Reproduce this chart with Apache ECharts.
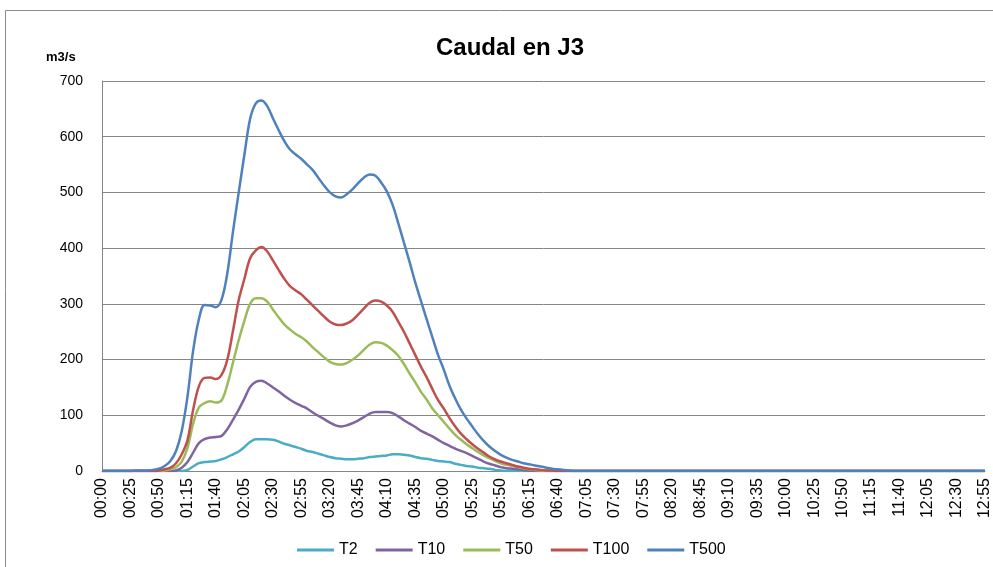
<!DOCTYPE html>
<html>
<head>
<meta charset="utf-8">
<title>Caudal en J3</title>
<script src="https://cdn.jsdelivr.net/npm/echarts@6/dist/echarts.min.js"></script>
<style>
  html, body { margin: 0; padding: 0; background: #ffffff; }
  #chart { width: 993px; height: 567px; }
</style>
</head>
<body>
<div id="chart"></div>
<script>
// Time steps (5-minute intervals)
const times = [
  "00:00","00:05","00:10","00:15","00:20","00:25","00:30","00:35","00:40","00:45",
  "00:50","00:55","01:00","01:05","01:10","01:15","01:20","01:25","01:30","01:35",
  "01:40","01:45","01:50","01:55","02:00","02:05","02:10","02:15","02:20","02:25",
  "02:30","02:35","02:40","02:45","02:50","02:55","03:00","03:05","03:10","03:15",
  "03:20","03:25","03:30","03:35","03:40","03:45","03:50","03:55","04:00","04:05",
  "04:10","04:15","04:20","04:25","04:30","04:35","04:40","04:45","04:50","04:55",
  "05:00","05:05","05:10","05:15","05:20","05:25","05:30","05:35","05:40","05:45",
  "05:50","05:55","06:00","06:05","06:10","06:15","06:20","06:25","06:30","06:35",
  "06:40","06:45","06:50","06:55","07:00","07:05","07:10","07:15","07:20","07:25",
  "07:30","07:35","07:40","07:45","07:50","07:55","08:00","08:05","08:10","08:15",
  "08:20","08:25","08:30","08:35","08:40","08:45","08:50","08:55","09:00","09:05",
  "09:10","09:15","09:20","09:25","09:30","09:35","09:40","09:45","09:50","09:55",
  "10:00","10:05","10:10","10:15","10:20","10:25","10:30","10:35","10:40","10:45",
  "10:50","10:55","11:00","11:05","11:10","11:15","11:20","11:25","11:30","11:35",
  "11:40","11:45","11:50","11:55","12:00","12:05","12:10","12:15","12:20","12:25",
  "12:30","12:35","12:40","12:45","12:50","12:55"
];

// Flow (m3/s) for each return period
const T2 = [
  0,0,0,0,0,0,0,0,0,0,
  0,0,0,0,0,2,8,14,16,17,
  18,21,25,30,35,43,52,57,57,57,
  56,53,49,46,43,40,36,34,31,28,
  25,23,22,21,21,22,23,25,26,27,
  28,30,30,29,28,25,23,22,20,18,
  17,16,13,11,9,8,6,5,4,2,
  1,0,0,0,0,0,0,0,0,0,
  0,0,0,0,0,0,0,0,0,0,
  0,0,0,0,0,0,0,0,0,0,
  0,0,0,0,0,0,0,0,0,0,
  0,0,0,0,0,0,0,0,0,0,
  0,0,0,0,0,0,0,0,0,0,
  0,0,0,0,0,0,0,0,0,0,
  0,0,0,0,0,0,0,0,0,0,
  0,0,0,0,0,0
];
const T10 = [
  0,0,0,0,0,0,0,0,0,0,
  0,0,0,1,6,16,33,50,57,60,
  61,63,75,92,110,130,151,160,162,157,
  150,143,135,128,122,117,112,105,99,93,
  87,82,80,82,86,91,97,103,106,106,
  106,104,98,91,85,79,72,67,62,56,
  50,45,40,36,32,27,22,17,13,10,
  7,5,4,3,2,1,0,0,0,0,
  0,0,0,0,0,0,0,0,0,0,
  0,0,0,0,0,0,0,0,0,0,
  0,0,0,0,0,0,0,0,0,0,
  0,0,0,0,0,0,0,0,0,0,
  0,0,0,0,0,0,0,0,0,0,
  0,0,0,0,0,0,0,0,0,0,
  0,0,0,0,0,0,0,0,0,0,
  0,0,0,0,0,0
];
const T50 = [
  0,0,0,0,0,0,0,0,0,0,
  0,1,3,7,17,41,85,114,122,125,
  123,127,155,195,235,270,300,310,310,304,
  290,276,263,254,246,240,232,222,213,204,
  196,192,191,194,200,208,218,227,231,230,
  225,217,207,192,175,159,142,128,112,100,
  88,76,65,56,48,41,34,28,23,18,
  14,11,9,7,5,3,2,1,0,0,
  0,0,0,0,0,0,0,0,0,0,
  0,0,0,0,0,0,0,0,0,0,
  0,0,0,0,0,0,0,0,0,0,
  0,0,0,0,0,0,0,0,0,0,
  0,0,0,0,0,0,0,0,0,0,
  0,0,0,0,0,0,0,0,0,0,
  0,0,0,0,0,0,0,0,0,0,
  0,0,0,0,0,0
];
const T100 = [
  0,0,0,0,0,0,0,0,0,0,
  1,3,6,14,30,55,110,152,167,168,
  165,173,200,252,307,345,382,396,402,394,
  378,361,345,332,324,317,307,297,287,277,
  268,263,262,265,271,281,292,302,306,304,
  297,286,268,250,229,208,187,168,147,127,
  112,95,80,67,57,48,40,33,26,21,
  17,14,11,8,6,4,3,2,1,1,
  0,0,0,0,0,0,0,0,0,0,
  0,0,0,0,0,0,0,0,0,0,
  0,0,0,0,0,0,0,0,0,0,
  0,0,0,0,0,0,0,0,0,0,
  0,0,0,0,0,0,0,0,0,0,
  0,0,0,0,0,0,0,0,0,0,
  0,0,0,0,0,0,0,0,0,0,
  0,0,0,0,0,0
];
const T500 = [
  0,0,0,0,0,0,1,1,1,2,
  4,9,18,36,72,133,216,272,298,297,
  294,308,355,430,500,568,632,660,665,655,
  633,612,592,577,568,560,550,540,526,512,
  500,493,491,497,506,517,527,532,530,518,
  502,478,445,410,375,338,305,272,240,208,
  182,153,130,110,94,80,66,54,44,36,
  29,24,20,17,14,12,10,8,6,4,
  3,2,1,0,0,0,0,0,0,0,
  0,0,0,0,0,0,0,0,0,0,
  0,0,0,0,0,0,0,0,0,0,
  0,0,0,0,0,0,0,0,0,0,
  0,0,0,0,0,0,0,0,0,0,
  0,0,0,0,0,0,0,0,0,0,
  0,0,0,0,0,0,0,0,0,0,
  0,0,0,0,0,0
];

const seriesNames = ["T2", "T10", "T50", "T100", "T500"];
const seriesData = [T2, T10, T50, T100, T500];
const seriesColors = ["#4BACC6", "#8064A2", "#9BBB59", "#C0504D", "#4F81BD"];

const FONT = "'Liberation Sans', Arial, sans-serif";

const chart = echarts.init(document.getElementById("chart"), null, { renderer: "canvas" });

chart.setOption({
  animation: false,
  backgroundColor: "#ffffff",
  textStyle: { fontFamily: FONT },
  title: {
    text: "Caudal en J3",
    left: 505,
    top: 31,
    textAlign: "center",
    textStyle: { fontFamily: FONT, fontSize: 24, fontWeight: "bold", color: "#000000" }
  },
  graphic: [
    {
      type: "rect",
      shape: { x: 5.5, y: 10.5, width: 1000, height: 600 },
      style: { fill: null, stroke: "#8c8c8c", lineWidth: 1 },
      silent: true,
      z: -1
    },
    {
      type: "text",
      left: 46,
      top: 51,
      style: { text: "m3/s", fontFamily: FONT, fontSize: 13, fontWeight: "bold", fill: "#000000" }
    }
  ],
  legend: {
    data: seriesNames,
    left: 292,
    top: 537,
    itemWidth: 37,
    itemHeight: 3,
    itemGap: 18,
    icon: "rect",
    textStyle: { fontFamily: FONT, fontSize: 16, color: "#000000" }
  },
  grid: { left: 102, right: 8, top: 81, bottom: 96, containLabel: false },
  xAxis: {
    type: "category",
    data: times,
    boundaryGap: false,
    axisLine: { lineStyle: { color: "#868686", width: 1 } },
    axisTick: { show: false },
    axisLabel: {
      interval: 4,
      rotate: 90,
      margin: 7,
      fontFamily: FONT,
      fontSize: 16,
      color: "#000000"
    },
    splitLine: { show: false }
  },
  yAxis: {
    type: "value",
    min: 0,
    max: 700,
    interval: 100,
    axisLine: { show: true, lineStyle: { color: "#868686", width: 1 } },
    axisTick: { show: false },
    axisLabel: { margin: 19, fontFamily: FONT, fontSize: 14, color: "#000000" },
    splitLine: { lineStyle: { color: "#868686", width: 1 } }
  },
  series: seriesNames.map((name, k) => ({
    name: name,
    type: "line",
    data: seriesData[k],
    smooth: 0.35,
    symbol: "none",
    lineStyle: { color: seriesColors[k], width: 2.5 },
    itemStyle: { color: seriesColors[k] },
    z: 2 + k
  }))
});
</script>
</body>
</html>
